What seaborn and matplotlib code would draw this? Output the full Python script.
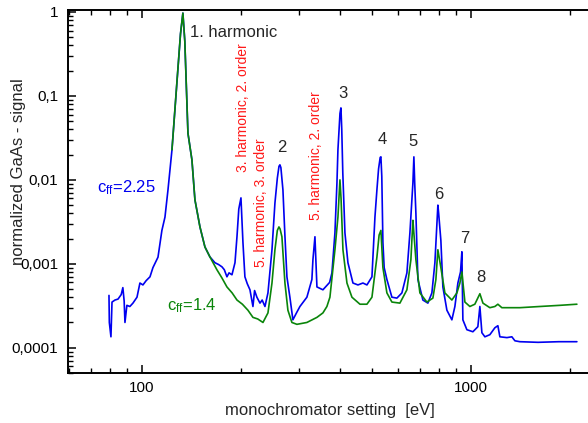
import matplotlib
matplotlib.use("Agg")
import matplotlib.pyplot as plt
import seaborn as sns
import pandas as pd
from matplotlib.ticker import NullFormatter, LogLocator

# c_ff = 2.25 (blue)
blue_ev = [79.4, 79.6, 80.5, 81.1, 82.8, 84.6, 86.5, 87.5, 88.3, 88.8, 90.0, 91.9,
           93.9, 96.6, 98.6, 100.7, 103, 105.8, 108.0, 111.9, 115.0, 117.5, 120.0,
           123.4, 127.8, 131, 133.2, 135, 138.0, 141.9, 144.9, 150.1, 155.4, 160.9,
           166.7, 171, 175.1, 178, 181.3, 184, 187.8, 191.8, 194.5, 197, 200.0, 202.8,
           205.6, 209, 213.0, 215, 217.5, 220, 223.6, 228.5, 232, 236.6, 241.6, 248.5,
           253.7, 258, 261, 262.7, 264.5, 268.3, 272, 275.9, 281.7, 287.7, 295, 302.2,
           317.3, 328.6, 331.0, 335.7, 340.4, 355.0, 372, 378.1, 386.1, 391.6, 394.3,
           400, 402.7, 405, 408, 414.1, 422.9, 438.0, 453.6, 469.7, 483.1, 500.3,
           510.9, 518, 524, 530, 532.7, 536, 540.2, 545, 555.5, 575.3, 595.8, 617.0,
           639.0, 652.6, 666.4, 671.0, 675, 680.5, 690.1, 714.6, 740.0, 761.1, 777.3,
           788, 793.7, 798, 810.5, 822.0, 845.4, 875.4, 894.1, 913.0, 930, 938.9,
           945.5, 972.3, 1014, 1050, 1065, 1080, 1103, 1142, 1183, 1208, 1225, 1287,
           1332, 1361, 1409, 1600, 1850, 2100]
blue_sig = [4.2e-4, 2.0e-4, 1.35e-4, 3.5e-4, 3.7e-4, 3.8e-4, 4.3e-4, 5.2e-4, 3.6e-4,
            2.0e-4, 3.2e-4, 3.1e-4, 3.4e-4, 4.0e-4, 5.9e-4, 5.6e-4, 6.3e-4, 7.0e-4,
            9.0e-4, 1.2e-3, 2.5e-3, 3.6e-3, 7.6e-3, 0.0228, 0.15, 0.55, 0.97, 0.45,
            0.036, 0.0173, 0.0058, 0.00275, 0.00159, 0.00121, 0.00103, 0.00098,
            0.00092, 0.00085, 0.00070, 0.00078, 0.00074, 0.00103, 0.0021, 0.0045,
            0.0061, 0.0018, 0.0007, 0.00058, 0.00049, 0.00040, 0.00031, 0.00048,
            0.00040, 0.00034, 0.00037, 0.00031, 0.00045, 0.00147, 0.0053, 0.0105,
            0.0145, 0.0151, 0.0140, 0.0076, 0.0022, 0.0007, 0.00040, 0.000215,
            0.00026, 0.00031, 0.00040, 0.00065, 0.00112, 0.0021, 0.00053, 0.00049,
            0.00060, 0.00078, 0.00234, 0.0092, 0.0228, 0.062, 0.072, 0.040, 0.012,
            0.00234, 0.00103, 0.00059, 0.00056, 0.00059, 0.00056, 0.0007, 0.0036,
            0.0076, 0.0135, 0.0185, 0.0188, 0.011, 0.0018, 0.0009, 0.00065, 0.00040,
            0.00039, 0.00045, 0.00078, 0.00234, 0.0092, 0.0188, 0.009, 0.0040,
            0.00065, 0.00037, 0.00034, 0.00045, 0.00103, 0.0028, 0.0050, 0.0040,
            0.0019, 0.00053, 0.00028, 0.000215, 0.00031, 0.00059, 0.0008, 0.00139,
            0.000215, 0.000164, 0.000155, 0.000178, 0.00031, 0.000151, 0.000135,
            0.000143, 0.000173, 0.000183, 0.000135, 0.000132, 0.000135, 0.000121,
            0.000118, 0.000116, 0.000118, 0.000118]

# c_ff = 1.4 (green)
green_ev = [123.4, 127.8, 131, 133.2, 135, 138.0, 141.9, 144.9, 150.1, 155.4, 160.9,
            169.0, 175, 181.3, 188, 194.5, 202, 210.0, 217.5, 225, 233.3, 241.6,
            248.5, 253.7, 258, 260.9, 263, 266.4, 272.1, 277.8, 285.7, 295.9, 317.3,
            340.4, 355.0, 365, 372.8, 386.1, 394.3, 399.9, 403, 408.4, 420.0, 434.9,
            460.0, 483.1, 500.3, 518.1, 526, 532.7, 540.2, 555.5, 575.3, 608.4, 639.0,
            657.1, 666.4, 670, 680.5, 699.8, 734.9, 766.4, 782.7, 793.7, 810.5, 833.6,
            875.4, 906.7, 925.9, 938.9, 958.9, 993.0, 1028, 1065, 1088, 1142, 1183,
            1208, 1242, 1409, 1621, 1864, 2100]
green_sig = [0.0228, 0.15, 0.55, 0.97, 0.45, 0.036, 0.0173, 0.0058, 0.00275, 0.00159,
             0.00121, 0.00085, 0.00068, 0.00053, 0.00045, 0.00037, 0.00033, 0.00028,
             0.00023, 0.00022, 0.00020, 0.00026, 0.00059, 0.00147, 0.0025, 0.00275,
             0.0026, 0.0021, 0.00059, 0.00028, 0.00020, 0.00019, 0.00020, 0.00023,
             0.00026, 0.00031, 0.00040, 0.00147, 0.0036, 0.010, 0.006, 0.00147,
             0.00059, 0.00040, 0.00033, 0.00033, 0.00040, 0.00121, 0.0022, 0.0025,
             0.0009, 0.00045, 0.00035, 0.00034, 0.00049, 0.00112, 0.0033, 0.0025,
             0.00112, 0.00045, 0.00035, 0.00039, 0.00065, 0.00147, 0.0009, 0.00045,
             0.00037, 0.00045, 0.00059, 0.0008, 0.00035, 0.00031, 0.00033, 0.00044,
             0.00034, 0.0003, 0.00031, 0.00033, 0.0003, 0.0003, 0.00031, 0.00032,
             0.00033]

ytick_vals = [1e-4, 1e-3, 1e-2, 1e-1, 1]
ytick_labels = ["0,0001", "0,001", "0,01", "0,1", "1"]
xtick_vals = [100, 1000]
xtick_labels = ["100", "1000"]

# peak numbers: (label, eV, signal)
peak_labels = ["2", "3", "4", "5", "6", "7", "8"]
peak_ev = [266.4, 408, 536, 666, 799, 959, 1073]
peak_sig = [0.024, 0.106, 0.0299, 0.0283, 0.00662, 0.00199, 0.00068]

order_labels = ["3. harmonic, 2. order", "5. harmonic, 3. order", "5. harmonic, 2. order"]
order_ev = [202.8, 230, 338]
order_sig = [0.01245, 0.00092, 0.00334]

sns.set_style("ticks")
plt.rcParams["font.family"] = ["Liberation Sans", "DejaVu Sans"]
plt.rcParams["mathtext.default"] = "regular"

fig = plt.figure(figsize=(5.88, 4.23), dpi=100)
ax = fig.add_axes([68 / 588, 50 / 423, 1 - 68 / 588, 363 / 423])

blue_df = pd.DataFrame({"ev": blue_ev, "sig": blue_sig})
green_df = pd.DataFrame({"ev": green_ev, "sig": green_sig})
sns.lineplot(data=blue_df, x="ev", y="sig", estimator=None, sort=False,
             color="#0000f0", lw=1.2, ax=ax)
sns.lineplot(data=green_df, x="ev", y="sig", estimator=None, sort=False,
             color="#0a850a", lw=1.2, ax=ax)

ax.set_xscale("log")
ax.set_yscale("log")
ax.set_xlim(59.6, 2270)
ax.set_ylim(5.0e-5, 1.056)

ax.set_xticks(xtick_vals, xtick_labels)
ax.set_yticks(ytick_vals, ytick_labels)
ax.xaxis.set_minor_locator(LogLocator(base=10, subs=range(2, 10), numticks=20))
ax.yaxis.set_minor_locator(LogLocator(base=10, subs=range(2, 10), numticks=20))
ax.xaxis.set_minor_formatter(NullFormatter())
ax.yaxis.set_minor_formatter(NullFormatter())

ax.tick_params(which="both", direction="in", top=True, right=False, colors="black",
               labelsize=11)
ax.tick_params(which="major", length=6, width=1.1)
ax.tick_params(which="minor", length=3.5, width=1.0)
ax.tick_params(axis="x", pad=6)
ax.tick_params(axis="y", pad=7)

for side in ["left", "bottom", "top"]:
    ax.spines[side].set_linewidth(1.4)
    ax.spines[side].set_color("black")
ax.spines["right"].set_visible(False)

ax.set_xlabel("monochromator setting  [eV]", fontsize=12)
ax.set_ylabel("normalized GaAs - signal", fontsize=12)
ax.xaxis.set_label_coords(0.504, -0.083)
ax.yaxis.set_label_coords(-0.08, 0.554)

ax.text(139.9, 0.562, "1. harmonic", fontsize=12, ha="left", va="center")
for lab, e, s in zip(peak_labels, peak_ev, peak_sig):
    ax.text(e, s, lab, fontsize=12, ha="center", va="center")
for lab, e, s in zip(order_labels, order_ev, order_sig):
    ax.text(e, s, lab, fontsize=10, color="#ff1a1a", rotation=90,
            ha="center", va="bottom")

ax.text(72.96, 0.00804, r"c$_{ff}$=2.25", fontsize=12, color="#0000f0",
        ha="left", va="center")
ax.text(119.1, 3.16e-4, r"c$_{ff}$=1.4", fontsize=12, color="#0a850a",
        ha="left", va="center")

fig.savefig("out.png", dpi=100)
